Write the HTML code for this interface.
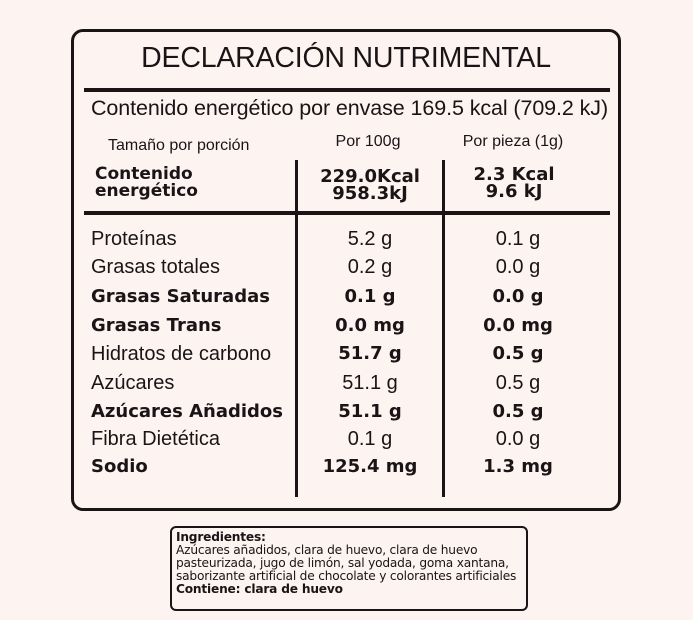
<!DOCTYPE html>
<html><head><meta charset="utf-8"><style>
body{margin:0;width:693px;height:620px;background:#fdf4f1;font-family:"Liberation Sans",sans-serif;color:#1a1416;position:relative;overflow:hidden}
.a{position:absolute;white-space:nowrap}
.box{position:absolute;left:71px;top:29px;width:544px;height:476px;border:3px solid #1a1416;border-radius:12px}
.hl{position:absolute;background:#1a1416}
.l{left:91px;font-size:20px}
.c1{left:296px;width:148px;text-align:center;font-size:20px}
.c2{left:444px;width:148px;text-align:center;font-size:20px}
.b{font-family:"DejaVu Sans",sans-serif;font-weight:bold;font-size:18px!important}
.ing{position:absolute;left:170px;top:526px;width:350px;height:78px;border:2px solid #1a1416;border-radius:6px;font-family:"DejaVu Sans",sans-serif;font-size:12.2px;line-height:13px;padding:3px 0 0 4px;letter-spacing:-0.2px}
</style></head><body>
<div class="box"></div>
<div class="a" style="left:71px;width:550px;text-align:center;top:42px;font-size:28.5px;letter-spacing:-0.2px">DECLARACIÓN NUTRIMENTAL</div>
<div class="hl" style="left:84px;width:526px;top:88px;height:4px"></div>
<div class="a" style="left:91px;top:96px;font-size:21.5px;letter-spacing:-0.1px">Contenido energético por envase 169.5 kcal (709.2 kJ)</div>
<div class="a" style="left:108px;top:137px;font-size:16px">Tamaño por porción</div>
<div class="a c1" style="top:133px;font-size:16px;width:144px">Por 100g</div>
<div class="a c2" style="top:133px;font-size:16px;width:138px">Por pieza (1g)</div>
<div class="a b" style="left:95px;top:166px;line-height:17px;font-size:17px!important">Contenido<br>energético</div>
<div class="a c1 b" style="top:168px;line-height:17px">229.0Kcal<br>958.3kJ</div>
<div class="a c2 b" style="top:166px;line-height:17px;width:140px">2.3 Kcal<br>9.6 kJ</div>
<div class="hl" style="left:295px;width:3px;top:160px;height:337px"></div>
<div class="hl" style="left:442px;width:3px;top:160px;height:337px"></div>
<div class="hl" style="left:84px;width:526px;top:211px;height:4px"></div>

<div class="a l" style="top:228px">Proteínas</div><div class="a c1" style="top:228px">5.2 g</div><div class="a c2" style="top:228px">0.1 g</div>
<div class="a l" style="top:256px">Grasas totales</div><div class="a c1" style="top:256px">0.2 g</div><div class="a c2" style="top:256px">0.0 g</div>
<div class="a l b" style="top:286px">Grasas Saturadas</div><div class="a c1 b" style="top:286px">0.1 g</div><div class="a c2 b" style="top:286px">0.0 g</div>
<div class="a l b" style="top:315px">Grasas Trans</div><div class="a c1 b" style="top:315px">0.0 mg</div><div class="a c2 b" style="top:315px">0.0 mg</div>
<div class="a l" style="top:343px">Hidratos de carbono</div><div class="a c1 b" style="top:343px">51.7 g</div><div class="a c2 b" style="top:343px">0.5 g</div>
<div class="a l" style="top:372px">Azúcares</div><div class="a c1" style="top:372px">51.1 g</div><div class="a c2" style="top:372px">0.5 g</div>
<div class="a l b" style="top:401px">Azúcares Añadidos</div><div class="a c1 b" style="top:401px">51.1 g</div><div class="a c2 b" style="top:401px">0.5 g</div>
<div class="a l" style="top:428px">Fibra Dietética</div><div class="a c1" style="top:428px">0.1 g</div><div class="a c2" style="top:428px">0.0 g</div>
<div class="a l b" style="top:456px">Sodio</div><div class="a c1 b" style="top:456px">125.4 mg</div><div class="a c2 b" style="top:456px">1.3 mg</div>

<div class="ing"><b>Ingredientes:</b><br>Azúcares añadidos, clara de huevo, clara de huevo<br>pasteurizada, jugo de limón, sal yodada, goma xantana,<br>saborizante artificial de chocolate y colorantes artificiales<br><b>Contiene: clara de huevo</b></div>
</body></html>
